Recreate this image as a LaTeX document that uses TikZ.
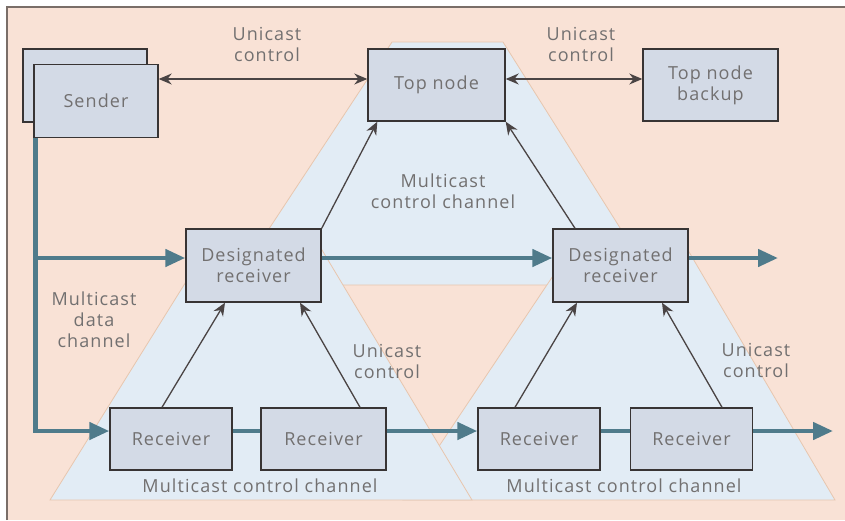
\documentclass[tikz,border=0pt]{standalone}
\usepackage{fontspec}
\setmainfont{Open Sans}[LetterSpace=6]
\usetikzlibrary{arrows.meta,positioning,calc}

\definecolor{bgpeach}{HTML}{F9E2D6}
\definecolor{triblue}{HTML}{E2ECF5}
\definecolor{triedge}{HTML}{E8C6AE}
\definecolor{boxfill}{HTML}{D3DAE6}
\definecolor{boxline}{HTML}{383434}
\definecolor{datateal}{HTML}{4F7B8B}
\definecolor{ctrlgray}{HTML}{4A4444}
\definecolor{labelgray}{HTML}{727070}
\definecolor{framegray}{HTML}{7A6E68}

\begin{document}
\begin{tikzpicture}[
    x=1pt, y=-1pt,
    every node/.style={font=\fontsize{18}{21}\selectfont, text=labelgray, align=center},
    box/.style={rectangle, draw=boxline, line width=1.4pt, fill=boxfill, inner sep=0pt, minimum width=135pt, minimum height=72pt},
    rbox/.style={box, minimum width=122pt, minimum height=62pt},
    area/.style={fill=triblue, draw=triedge, line width=0.8pt},
    data/.style={draw=datateal, line width=4.5pt},
    datatip/.style={-{Triangle[length=20pt,width=17pt]}},
    ctrl/.style={draw=ctrlgray, line width=1.3pt},
    ctrltip/.style={-{Stealth[length=13pt,width=11pt]}},
    ctrlboth/.style={{Stealth[length=13pt,width=11pt]}-{Stealth[length=13pt,width=11pt]}},
]
    \useasboundingbox (0,0) rectangle (845,520);

    % Background and frame
    \fill[bgpeach] (7,7) rectangle (845,520);
    \draw[framegray, line width=1.6pt] (7,520) -- (7,7) -- (845,7);

    % Multicast control channel areas
    \path[area] (392,42) -- (503,42) -- (656,285) -- (232,285) -- cycle;
    \path[area] (577,240) -- (682,240) -- (835,500) -- (403,500) -- cycle;
    \path[area] (212,240) -- (316,240) -- (472,500) -- (50,500) -- cycle;

    % Sender (stacked)
    \node[box, minimum width=124pt, minimum height=73pt] (senderback) at (85,85.5) {};
    \node[box, minimum width=124pt, minimum height=73pt] (sender) at (96,101) {Sender};

    % Top node and backup
    \node[box, minimum width=137pt] (top) at (436.5,85) {Top node};
    \node[box] (backup) at (710.5,85) {Top node\\backup};

    % Designated receivers
    \node[box, minimum height=73pt] (dr1) at (253.5,265.5) {Designated\\receiver};
    \node[box, minimum height=73pt] (dr2) at (620.5,265.5) {Designated\\receiver};

    % Receivers
    \node[rbox] (r1) at (171,439) {Receiver};
    \node[rbox, minimum width=125pt] (r2) at (323.5,439) {Receiver};
    \node[rbox] (r3) at (539,439) {Receiver};
    \node[rbox] (r4) at (691.5,439) {Receiver};

    % Multicast data channel
    \coordinate (s0) at ([xshift=2pt]sender.south west);
    \coordinate (d1in) at ([yshift=7.5pt]dr1.west);
    \coordinate (r1in) at ([yshift=8pt]r1.west);
    \coordinate (dout) at (778,258);
    \coordinate (rout) at (833,431);
    \draw[data, datatip] (s0) |- (r1in);
    \draw[data, datatip] (s0 |- d1in) -- (d1in);
    \draw[data, datatip] (d1in -| dr1.east) -- (d1in -| dr2.west);
    \draw[data, datatip] (d1in -| dr2.east) -- (dout);
    \draw[data] (r1in -| r1.east) -- (r1in -| r2.west);
    \draw[data, datatip] (r1in -| r2.east) -- (r1in -| r3.west);
    \draw[data] (r1in -| r3.east) -- (r1in -| r4.west);
    \draw[data, datatip] (r1in -| r4.east) -- (rout);

    % Unicast control
    \coordinate (tw) at ([yshift=6pt]top.west);
    \draw[ctrl, ctrlboth] (tw -| sender.east) -- (tw);
    \draw[ctrl, ctrlboth] (tw -| top.east) -- (tw -| backup.west);
    \draw[ctrl, ctrltip] ([xshift=-9pt]r1.north) -- ([xshift=-28.5pt]dr1.south);
    \draw[ctrl, ctrltip] ([xshift=36.5pt]r2.north) -- ([xshift=46.5pt]dr1.south);
    \draw[ctrl, ctrltip] (dr1.north east) -- ([xshift=10pt]top.south west);
    \draw[ctrl, ctrltip] ([xshift=-45.5pt]dr2.north) -- (top.south east);
    \draw[ctrl, ctrltip] ([xshift=-24pt]r3.north) -- ([xshift=-43.5pt]dr2.south);
    \draw[ctrl, ctrltip] ([xshift=30.5pt]r4.north) -- ([xshift=41.5pt]dr2.south);

    % Labels
    \node (uc1) at (267,44) {Unicast\\control};
    \node (uc2) at (581,44) {Unicast\\control};
    \node (mcc) at (443,191) {Multicast\\control channel};
    \node (mdc) at (94,320) {Multicast\\data\\channel};
    \node (uc3) at (387,361) {Unicast\\control};
    \node (uc4) at (756,360) {Unicast\\control};
    \node (mcl) at (260,486) {Multicast control channel};
    \node (mcr) at (624,486) {Multicast control channel};
\end{tikzpicture}
\end{document}
